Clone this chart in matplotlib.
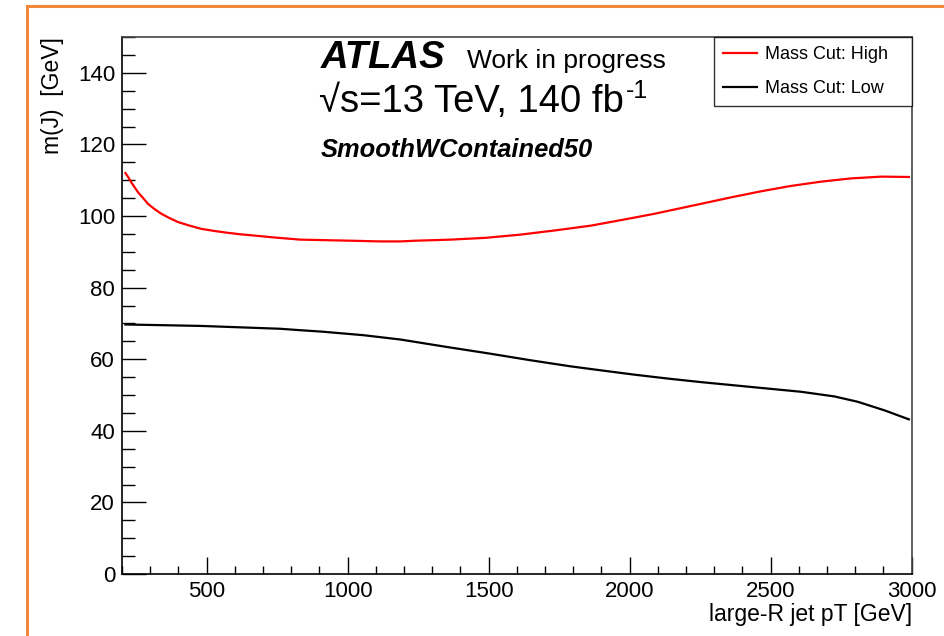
import matplotlib
matplotlib.use("Agg")
import matplotlib.pyplot as plt
from matplotlib.patches import Rectangle
from matplotlib.ticker import MultipleLocator

plt.rcParams['font.family'] = ['Liberation Sans', 'DejaVu Sans']

# Upper and lower mass-window edges vs large-R jet pT
pt_high = [212, 221, 233, 245, 257, 275, 292, 316, 340, 369, 399, 440, 482,
           529, 576, 619, 647, 740, 832, 1010, 1116, 1187, 1240, 1365, 1489,
           1613, 1738, 1862, 1986, 2040, 2093, 2146, 2253, 2359, 2466, 2572,
           2679, 2785, 2892, 2990]
m_high = [112.0, 111.0, 109.4, 108.0, 106.6, 105.0, 103.4, 101.9, 100.6, 99.4,
          98.3, 97.3, 96.4, 95.8, 95.3, 94.9, 94.7, 94.0, 93.4, 93.1, 92.9,
          92.9, 93.1, 93.4, 93.9, 94.8, 96.0, 97.3, 99.1, 99.9, 100.7, 101.6,
          103.4, 105.2, 106.9, 108.4, 109.6, 110.5, 111.0, 110.9]

pt_low = [212, 477, 655, 761, 832, 909, 1057, 1187, 1353, 1501, 1649, 1791,
          1897, 2015, 2134, 2253, 2371, 2489, 2608, 2726, 2809, 2904, 2990]
m_low = [69.7, 69.3, 68.8, 68.5, 68.1, 67.7, 66.7, 65.5, 63.4, 61.6, 59.7,
         58.0, 56.9, 55.7, 54.6, 53.6, 52.7, 51.8, 50.9, 49.6, 48.1, 45.7, 43.2]

series_labels = ["Mass Cut: High", "Mass Cut: Low"]
x_range = (200, 3000)
y_range = (0, 150)

fig = plt.figure(figsize=(9.45, 6.36), dpi=100)
W, H = 945, 636

# canvas frame
fig.patches.append(Rectangle((27 / W, -0.1), 1.2, (1 - 6 / H) + 0.1,
                             transform=fig.transFigure, fill=False,
                             edgecolor='#F0883A', linewidth=2.2, zorder=0))

ax_left, ax_right, ax_top, ax_bottom = 122, 911.7, 37, 574
ax = fig.add_axes([ax_left / W, 1 - ax_bottom / H,
                   (ax_right - ax_left) / W, (ax_bottom - ax_top) / H])

ax.plot(pt_high, m_high, color='#FF0000', lw=1.6, label=series_labels[0])
ax.plot(pt_low, m_low, color='black', lw=1.6, label=series_labels[1])

ax.set_xlim(*x_range)
ax.set_ylim(*y_range)

ax.xaxis.set_major_locator(MultipleLocator(500))
ax.xaxis.set_minor_locator(MultipleLocator(100))
ax.yaxis.set_major_locator(MultipleLocator(20))
ax.yaxis.set_minor_locator(MultipleLocator(5))

ax.tick_params(axis='x', which='major', direction='in', length=12, width=1,
               labelsize=16, pad=5)
ax.tick_params(axis='x', which='minor', direction='in', length=6, width=1)
ax.tick_params(axis='y', which='major', direction='in', length=17, width=1,
               labelsize=16, pad=5)
ax.tick_params(axis='y', which='minor', direction='in', length=9, width=1)

for side in ['left', 'bottom']:
    ax.spines[side].set_linewidth(1.2)
    ax.spines[side].set_color('black')
for side in ['top', 'right']:
    ax.spines[side].set_linewidth(1.2)
    ax.spines[side].set_color('#444444')

ax.set_xlabel('large-R jet pT [GeV]', fontsize=16.5, loc='right', labelpad=1)
ax.set_ylabel('m(J)  [GeV]', fontsize=16.5, loc='top', labelpad=10)

leg_x0 = (714 - ax_left) / (ax_right - ax_left)
leg_w = (912 - 714) / (ax_right - ax_left)
leg = ax.legend(loc='upper left', bbox_to_anchor=(leg_x0, 0.0, leg_w, 1.0),
                mode='expand', borderaxespad=0, fontsize=13, frameon=True,
                fancybox=False, handlelength=1.9, handletextpad=0.45,
                labelspacing=0.95, borderpad=0.5)
leg.get_frame().set_edgecolor('black')
leg.get_frame().set_linewidth(1.0)

ax.text(0.252, 0.9417, 'ATLAS', transform=ax.transAxes, fontsize=27.5,
        fontweight='bold', fontstyle='italic', va='baseline')
ax.text(0.437, 0.9417, 'Work in progress', transform=ax.transAxes,
        fontsize=19, va='baseline')
energy = ax.text(0.25, 0.861, '\u221as=13 TeV, 140 fb', transform=ax.transAxes,
                 fontsize=27.5, va='baseline')
ax.annotate('-1', xy=(1.0, 1.0), xycoords=energy, xytext=(1, 3),
            textcoords='offset points', fontsize=18, ha='left', va='top')
ax.text(0.252, 0.777, 'SmoothWContained50', transform=ax.transAxes,
        fontsize=18.4, fontweight='bold', fontstyle='italic', va='baseline')

fig.savefig('out.png', dpi=100)
